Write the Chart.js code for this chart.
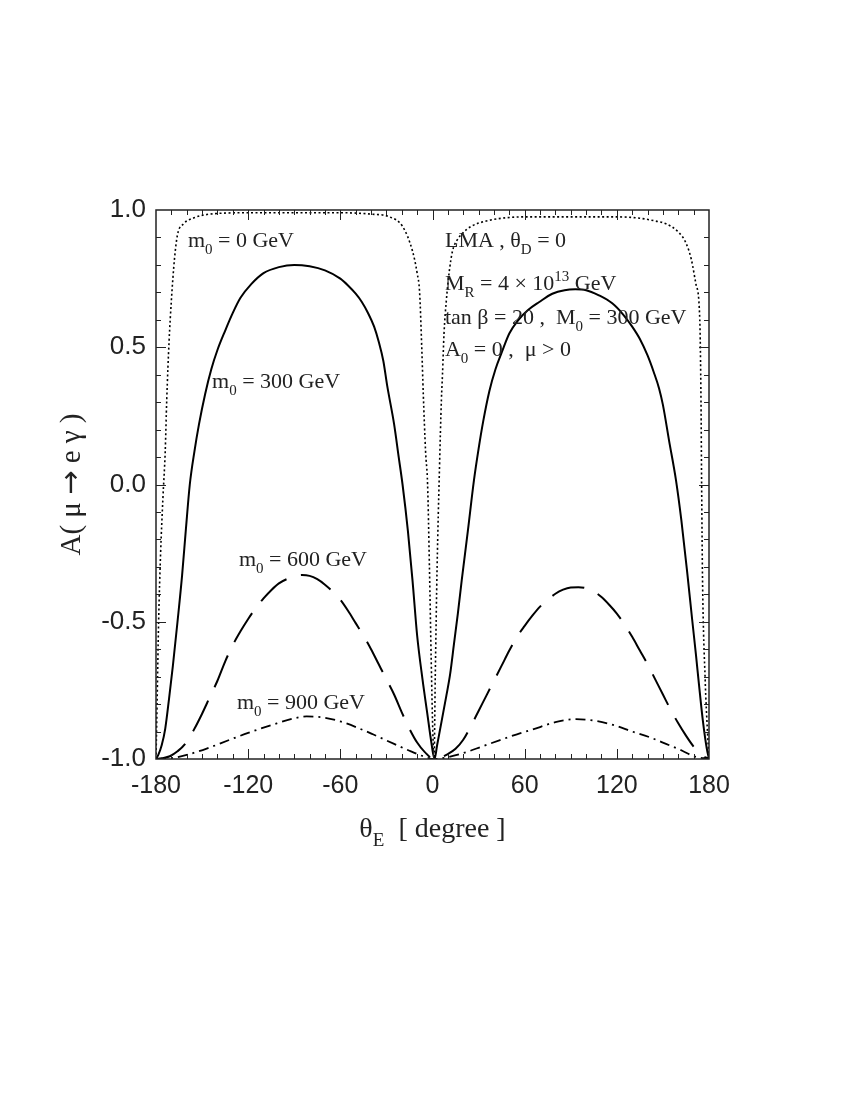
<!DOCTYPE html>
<html>
<head>
<meta charset="utf-8">
<script src="https://cdn.jsdelivr.net/npm/chart.js@4.4.0/dist/chart.umd.min.js"></script>
<style>
html,body{margin:0;padding:0;background:#fff;}
canvas{display:block;}
</style>
</head>
<body>
<canvas id="c" width="850" height="1100"></canvas>
<script>
// ---------- data ----------
const xTickValues = [-180, -120, -60, 0, 60, 120, 180];
const xTickLabels = ['-180', '-120', '-60', '0', '60', '120', '180'];
const yTickValues = [-1.0, -0.5, 0.0, 0.5, 1.0];
const yTickLabels = ['-1.0', '-0.5', '0.0', '0.5', '1.0'];

// m0 = 0 GeV (dotted)
const thetaM0 = [-180,-179.3,-178.3,-177,-175.5,-174,-173,-171.5,-170,-168,-166,-162,-156,-145,-120,-90,-60,-40,-28,-19.5,-13,-10,-8.4,-7,-6,-4.5,-3.2,-2,-0.8,0.2,1,1.8,3,4.5,5.8,6.5,7.5,9,11,13,16,19.5,25,35,45,60,90,120,135,145,152,160,165,168.5,171.5,174,174.8,175.2,175.8,177.5,179,180];
const aM0     = [-1,-0.8,-0.5,-0.25,-0.05,0.12,0.31,0.52,0.67,0.82,0.91,0.95,0.97,0.985,0.99,0.99,0.99,0.985,0.975,0.94,0.85,0.77,0.70,0.5,0.33,0.12,0.0,-0.3,-0.65,-0.9,-1,-0.7,-0.3,0.05,0.31,0.4,0.55,0.67,0.78,0.85,0.89,0.915,0.94,0.96,0.97,0.975,0.975,0.975,0.97,0.96,0.95,0.92,0.88,0.82,0.73,0.6,0.3,0.0,-0.35,-0.71,-0.9,-1];

// m0 = 300 GeV (solid)
const thetaM300 = [-180,-178.5,-176.3,-174,-171.5,-169,-166,-163,-160.5,-158,-155,-152,-148,-144,-140,-135,-130,-125,-118,-110,-100,-90,-80,-70,-60,-55,-50,-46,-42,-38,-35,-32,-29.5,-25,-22,-19.5,-16,-13,-10,-6.5,-3.5,-1,1.3,3,6,9,11.5,14,16.5,19,23,27,30,33,37,41,45,50,56,62,69.5,78,86,93,100,108,117,124,130,135,140,144,147.5,150,154,158.5,162,166,169,171.5,173.5,176,178.5,180];
const aM300     = [-1,-0.985,-0.95,-0.89,-0.78,-0.66,-0.5,-0.33,-0.16,0.0,0.12,0.22,0.33,0.42,0.49,0.56,0.625,0.68,0.73,0.77,0.792,0.80,0.795,0.78,0.75,0.725,0.695,0.665,0.625,0.575,0.52,0.45,0.36,0.22,0.1,0.0,-0.17,-0.35,-0.55,-0.71,-0.83,-0.93,-1,-0.95,-0.86,-0.77,-0.69,-0.58,-0.47,-0.35,-0.17,0.016,0.13,0.23,0.34,0.42,0.48,0.55,0.6,0.635,0.665,0.695,0.708,0.711,0.708,0.69,0.66,0.62,0.575,0.53,0.47,0.41,0.35,0.29,0.16,0.016,-0.13,-0.33,-0.49,-0.62,-0.73,-0.86,-0.96,-1];

// m0 = 600 GeV (dashed)
const thetaM600 = [-180,-176,-171,-166,-161,-155,-150,-145,-140,-135,-130,-125,-120,-115,-110,-105,-100,-95,-90,-85,-80,-75,-70,-65,-60,-55,-50,-45,-40,-35,-30,-25,-20,-15,-10,-5,1,5,10,15,20,25,30,35,40,45,50,55,60,65,70,75,80,85,90,95,100,105,110,115,120,125,130,135,140,145,150,155,160,165,170,175,180];
const aM600     = [-1,-0.997,-0.99,-0.972,-0.945,-0.89,-0.835,-0.775,-0.715,-0.645,-0.585,-0.535,-0.49,-0.45,-0.415,-0.385,-0.36,-0.345,-0.335,-0.33,-0.333,-0.345,-0.365,-0.39,-0.42,-0.46,-0.505,-0.55,-0.6,-0.655,-0.71,-0.765,-0.83,-0.89,-0.94,-0.975,-1,-0.995,-0.982,-0.963,-0.93,-0.88,-0.825,-0.77,-0.715,-0.66,-0.605,-0.555,-0.515,-0.478,-0.445,-0.42,-0.398,-0.383,-0.375,-0.374,-0.378,-0.39,-0.41,-0.438,-0.47,-0.51,-0.555,-0.605,-0.655,-0.71,-0.765,-0.82,-0.87,-0.915,-0.955,-0.985,-1];

// m0 = 900 GeV (dash-dot)
const thetaM900 = [-180,-168,-160,-147,-132,-120,-104,-90,-82,-72,-60,-45,-38.8,-25,-15,-6,1,10,22,32,43.5,55,65,80,93.4,105,119,130,141,152,162.6,170,180];
const aM900     = [-1,-0.995,-0.985,-0.962,-0.93,-0.905,-0.875,-0.852,-0.845,-0.848,-0.863,-0.895,-0.91,-0.945,-0.97,-0.99,-1,-0.993,-0.975,-0.955,-0.932,-0.91,-0.893,-0.866,-0.855,-0.86,-0.878,-0.9,-0.92,-0.945,-0.97,-0.99,-1];

// ---------- helpers ----------
function pts(xs, ys){ return xs.map((x,i)=>({x:x, y:ys[i]})); }

const SERIF = '"Liberation Serif","DejaVu Serif",serif';
const SANS = '"Liberation Sans",Arial,Helvetica,sans-serif';

function drawRich(ctx, x, y, parts, size, align){
  const subSize = Math.round(size*0.68);
  const fontOf = p => ((p.sub||p.sup)? subSize : size) + 'px ' + (p.family || SERIF);
  let w = 0;
  const widths = parts.map(p=>{
    ctx.font = fontOf(p);
    const m = ctx.measureText(p.t).width;
    w += m; return m;
  });
  let cx = x;
  if (align === 'center') cx = x - w/2;
  ctx.textBaseline = 'alphabetic';
  ctx.textAlign = 'left';
  parts.forEach((p,i)=>{
    ctx.font = fontOf(p);
    let dy = 0;
    if (p.sub) dy = size*0.32;
    if (p.sup) dy = -size*0.42;
    ctx.fillText(p.t, cx, y + dy);
    cx += widths[i];
  });
  return w;
}

const annotations = [
  {x:-159.2, y:0.865, parts:[{t:'m'},{t:'0',sub:true},{t:' = 0 GeV'}]},
  {x:-143.5, y:0.352, parts:[{t:'m'},{t:'0',sub:true},{t:' = 300 GeV'}]},
  {x:-126.0, y:-0.297, parts:[{t:'m'},{t:'0',sub:true},{t:' = 600 GeV'}]},
  {x:-127.3, y:-0.818, parts:[{t:'m'},{t:'0',sub:true},{t:' = 900 GeV'}]},
  {x:8.1, y:0.865, parts:[{t:'LMA , θ'},{t:'D',sub:true},{t:' = 0'}]},
  {x:8.1, y:0.709, parts:[{t:'M'},{t:'R',sub:true},{t:' = 4 × 10'},{t:'13',sup:true},{t:' GeV'}]},
  {x:8.1, y:0.585, parts:[{t:'tan β = 20 ,  M'},{t:'0',sub:true},{t:' = 300 GeV'}]},
  {x:8.1, y:0.468, parts:[{t:'A'},{t:'0',sub:true},{t:' = 0 ,  μ > 0'}]}
];

const framePlugin = {
  id: 'frame',
  beforeDraw(chart){
    const ctx = chart.ctx;
    ctx.save();
    ctx.fillStyle = '#fff';
    ctx.fillRect(0,0,chart.width,chart.height);
    ctx.restore();
  },
  afterDraw(chart){
    const ctx = chart.ctx, a = chart.chartArea;
    const xs = chart.scales.x, ys = chart.scales.y;
    ctx.save();
    ctx.strokeStyle = '#222';
    ctx.lineWidth = 1.5;
    ctx.strokeRect(a.left, a.top, a.right-a.left, a.bottom-a.top);
    ctx.lineWidth = 1;
    ctx.beginPath();
    for (let v=-170; v<180; v+=10){
      const px = Math.round(xs.getPixelForValue(v))+0.5;
      const len = (v % 60 === 0) ? 10 : 5;
      ctx.moveTo(px, a.bottom); ctx.lineTo(px, a.bottom-len);
      ctx.moveTo(px, a.top); ctx.lineTo(px, a.top+len);
    }
    for (let k=-9; k<=9; k++){
      const v = k/10;
      const py = Math.round(ys.getPixelForValue(v))+0.5;
      const len = (k % 5 === 0) ? 10 : 5;
      ctx.moveTo(a.left, py); ctx.lineTo(a.left+len, py);
      ctx.moveTo(a.right, py); ctx.lineTo(a.right-len, py);
    }
    ctx.stroke();

    ctx.fillStyle = '#222';
    annotations.forEach(an=>{
      drawRich(ctx, xs.getPixelForValue(an.x), ys.getPixelForValue(an.y), an.parts, 22, 'left');
    });

    // x axis title
    drawRich(ctx, xs.getPixelForValue(0), 837, [{t:'θ'},{t:'E',sub:true},{t:'  [ degree ]'}], 28, 'center');

    // y axis title (rotated)
    ctx.save();
    ctx.translate(80, ys.getPixelForValue(0));
    ctx.rotate(-Math.PI/2);
    drawRich(ctx, 0, 0, [{t:'A( μ '},{t:'→', family:'"DejaVu Sans",sans-serif'},{t:' e γ )'}], 29, 'center');
    ctx.restore();
    ctx.restore();
  }
};

const ctx = document.getElementById('c').getContext('2d');
new Chart(ctx, {
  type: 'line',
  data: {
    datasets: [
      {label:'m0 = 0 GeV', data: pts(thetaM0, aM0), borderColor:'#000', borderWidth:1.6, borderDash:[2,2.5], pointRadius:0, fill:false, cubicInterpolationMode:'monotone'},
      {label:'m0 = 300 GeV', data: pts(thetaM300, aM300), borderColor:'#000', borderWidth:2, pointRadius:0, fill:false, cubicInterpolationMode:'monotone'},
      {label:'m0 = 600 GeV', data: pts(thetaM600, aM600), borderColor:'#000', borderWidth:2, borderDash:[34,15], pointRadius:0, fill:false, cubicInterpolationMode:'monotone'},
      {label:'m0 = 900 GeV', data: pts(thetaM900, aM900), borderColor:'#000', borderWidth:1.8, borderDash:[10,5,2,5], pointRadius:0, fill:false, cubicInterpolationMode:'monotone'}
    ]
  },
  options: {
    responsive: false,
    animation: false,
    devicePixelRatio: 1,
    layout: { padding: { left: 0, right: 141, top: 210, bottom: 241 } },
    plugins: { legend: {display:false}, tooltip: {enabled:false}, title:{display:false} },
    scales: {
      x: {
        type: 'linear', min: -180, max: 180,
        afterBuildTicks(s){ s.ticks = xTickValues.map(v=>({value:v})); },
        grid: {display:false, drawTicks:false},
        border: {display:false},
        ticks: {
          autoSkip:false, maxRotation:0, padding: 12, color:'#222',
          font:{family:SANS, size:25},
          callback(v){ const i = xTickValues.indexOf(v); return i>=0 ? xTickLabels[i] : ''; }
        },
        afterFit(s){ s.height = 100; }
      },
      y: {
        type: 'linear', min: -1, max: 1,
        afterBuildTicks(s){ s.ticks = yTickValues.map(v=>({value:v})); },
        grid: {display:false, drawTicks:false},
        border: {display:false},
        ticks: {
          autoSkip:false, padding: 10, color:'#222',
          font:{family:SANS, size:26},
          callback(v){ const i = yTickValues.findIndex(t=>Math.abs(t-v)<1e-9); return i>=0 ? yTickLabels[i] : ''; }
        },
        afterFit(s){ s.width = 156; }
      }
    }
  },
  plugins: [framePlugin]
});
</script>
</body>
</html>
